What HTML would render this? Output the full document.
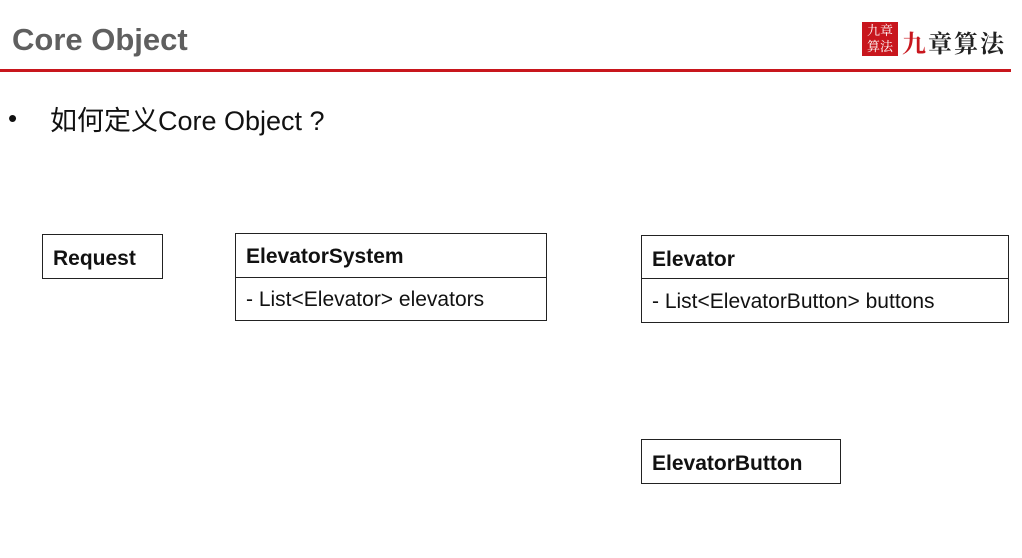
<!DOCTYPE html>
<html><head><meta charset="utf-8"><style>
body{margin:0;width:1022px;height:558px;background:#fff;position:relative;overflow:hidden;font-family:"Liberation Sans","Noto Sans CJK SC",sans-serif;}
.a{position:absolute}
.box{position:absolute;border:1.5px solid #222;box-sizing:border-box;color:#111;font-size:21px}
.h{font-weight:bold;padding-left:10px}
.d{border-top:1.5px solid #222;padding-left:10px}
</style></head><body>
<div class="a" style="left:12px;top:22px;font-size:31px;font-weight:bold;color:#5f5f5f">Core Object</div>
<div class="a" style="left:0;top:69px;width:1011px;height:3px;background:#c8161d"></div>
<div class="a" style="left:862px;top:22px;width:36px;height:34px;background:#c8161d;color:#fff;font-family:'Noto Serif CJK SC',serif;font-size:13px;line-height:16px;text-align:center">九章<br>算法</div>
<div class="a" style="left:902px;top:24px;font-family:'Noto Serif CJK SC',serif;font-size:24px;font-weight:bold;color:#222;letter-spacing:2px"><span style="color:#c8161d">九</span>章算法</div>
<div class="a" style="left:8px;top:103px;font-size:26px;color:#111">•</div>
<div class="a" style="left:50px;top:99px;font-size:27px;color:#111">如何定义Core Object ?</div>
<div class="box" style="left:42px;top:234px;width:121px;height:45px;line-height:47px"><div class="h">Request</div></div>
<div class="box" style="left:235px;top:233px;width:312px;height:88px"><div class="h" style="height:43px;line-height:46px">ElevatorSystem</div><div class="d" style="line-height:44px">- List&lt;Elevator&gt; elevators</div></div>
<div class="box" style="left:641px;top:235px;width:368px;height:88px"><div class="h" style="height:42px;line-height:47px">Elevator</div><div class="d" style="line-height:45px">- List&lt;ElevatorButton&gt; buttons</div></div>
<div class="box" style="left:641px;top:439px;width:200px;height:45px;line-height:47px"><div class="h">ElevatorButton</div></div>
</body></html>
